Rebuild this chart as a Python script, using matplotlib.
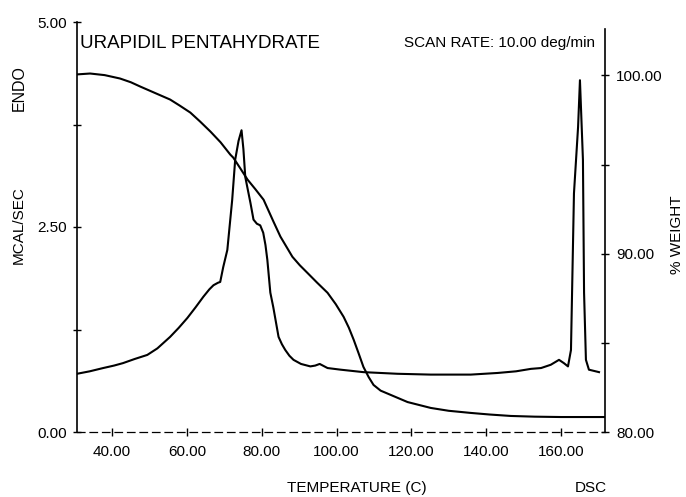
import matplotlib
matplotlib.use("Agg")
import matplotlib.pyplot as plt

plt.rcParams['font.family'] = ['Liberation Sans', 'DejaVu Sans']

# DSC heat flow (MCAL/SEC) vs temperature (C)
dsc_temp = [30.6, 34.0, 37.6, 40.5, 42.9, 46.0, 49.4, 52.1, 55.5, 57.8, 60.1, 62.3,
            64.4, 66.0, 67.1, 68.3, 68.9, 69.7, 70.8, 72.1, 72.9, 73.8, 74.6, 75.1,
            75.6, 77.0, 77.8, 78.7, 79.6, 80.4, 81.0, 81.5, 82.3, 83.1, 84.5, 85.4,
            86.3, 87.4, 88.5, 90.5, 93.0, 94.3, 95.5, 97.6, 101.1, 107.2, 116.3,
            125.2, 135.9, 143.1, 148.0, 152.0, 154.7, 157.3, 159.5, 160.8, 161.9,
            162.7, 163.5, 164.6, 165.1, 165.9, 166.2, 166.7, 167.5, 170.2]
dsc_heat = [0.71, 0.74, 0.78, 0.81, 0.84, 0.89, 0.94, 1.02, 1.16, 1.27, 1.39, 1.52,
            1.65, 1.74, 1.79, 1.82, 1.83, 2.01, 2.22, 2.83, 3.32, 3.55, 3.68, 3.45,
            3.11, 2.79, 2.59, 2.54, 2.52, 2.43, 2.28, 2.10, 1.70, 1.52, 1.16, 1.07,
            1.00, 0.93, 0.88, 0.83, 0.80, 0.81, 0.83, 0.78, 0.76, 0.73, 0.71,
            0.70, 0.70, 0.72, 0.74, 0.77, 0.78, 0.82, 0.88, 0.84, 0.80,
            1.00, 2.91, 3.72, 4.29, 3.32, 1.70, 0.88, 0.76, 0.73]

# TGA weight (%) vs temperature (C)
tga_temp = [30.6, 34.1, 38.0, 42.1, 45.0, 47.5, 51.0, 55.5, 58.0, 60.9, 63.5, 66.3,
            69.0, 71.6, 72.4, 74.3, 76.2, 78.3, 80.5, 83.1, 85.0, 86.7, 88.2, 90.2,
            92.2, 94.8, 97.6, 99.8, 101.9, 103.3, 104.6, 105.9, 107.2, 108.6, 109.9,
            111.8, 114.5, 119.0, 125.2, 130.0, 135.9, 141.0, 146.6, 153.0, 160.0,
            171.8]
tga_weight = [100.06, 100.11, 100.02, 99.83, 99.62, 99.38, 99.06, 98.65, 98.32, 97.92,
              97.42, 96.85, 96.25, 95.56, 95.39, 94.78, 94.16, 93.62, 93.03, 91.82,
              90.96, 90.36, 89.83, 89.35, 88.93, 88.38, 87.81, 87.17, 86.46, 85.85,
              85.17, 84.42, 83.65, 83.08, 82.64, 82.32, 82.08, 81.68, 81.35, 81.19,
              81.07, 80.98, 80.90, 80.86, 80.84, 80.84]

x_ticks = [40, 60, 80, 100, 120, 140, 160]
x_labels = ["40.00", "60.00", "80.00", "100.00", "120.00", "140.00", "160.00"]
left_ticks = [0, 1.25, 2.5, 3.75, 5.0]
left_labels = ["0.00", "", "2.50", "", "5.00"]
right_ticks = [80, 85, 90, 95, 100]
right_labels = ["80.00", "", "90.00", "", "100.00"]

W, H = 686, 497
fig = plt.figure(figsize=(W / 100, H / 100), dpi=100)
ax = fig.add_axes([77 / W, 1 - 432 / H, (605 - 77) / W, (432 - 22) / H])
ax2 = ax.twinx()

ax.plot(dsc_temp, dsc_heat, color='black', lw=1.5, solid_joinstyle='round')
ax2.plot(tga_temp, tga_weight, color='black', lw=1.5, solid_joinstyle='round')

ax.set_xlim(30.6, 171.8)
ax.set_ylim(0, 5.0)
ax2.set_ylim(80, 103.0)

for s in ['top']:
    ax.spines[s].set_visible(False)
    ax2.spines[s].set_visible(False)
ax2.spines['left'].set_visible(False)
ax2.spines['bottom'].set_visible(False)
ax.spines['right'].set_visible(False)
ax.spines['bottom'].set_linestyle((0, (6, 4)))
ax.spines['bottom'].set_linewidth(0.9)
ax.spines['left'].set_linewidth(1.2)
ax2.spines['right'].set_linewidth(1.2)
ax2.spines['right'].set_bounds(80, 102.6)

ax.set_xticks(x_ticks)
ax.set_xticklabels(x_labels)
ax.set_yticks(left_ticks)
ax.set_yticklabels(left_labels)
ax2.set_yticks(right_ticks)
ax2.set_yticklabels(right_labels)

ax.tick_params(axis='x', direction='inout', length=6, width=1.0, labelsize=11, pad=6)
ax.tick_params(axis='y', direction='inout', length=6, width=1.0, labelsize=11, pad=4)
ax2.tick_params(axis='y', direction='inout', length=6, width=1.0, labelsize=11, pad=5)

fig.text(80 / W, 1 - 43 / H, "URAPIDIL PENTAHYDRATE", fontsize=13.5, va='center', ha='left')
fig.text(595 / W, 1 - 43 / H, "SCAN RATE: 10.00 deg/min", fontsize=11, va='center', ha='right')
fig.text(19 / W, 1 - 88 / H, "ENDO", fontsize=11.5, rotation=90, va='center', ha='center')
fig.text(19 / W, 1 - 225 / H, "MCAL/SEC", fontsize=11, rotation=90, va='center', ha='center')
fig.text(677 / W, 1 - 235 / H, "% WEIGHT", fontsize=11, rotation=90, va='center', ha='center')
fig.text(357 / W, 1 - 488 / H, "TEMPERATURE (C)", fontsize=11, va='center', ha='center')
fig.text(591 / W, 1 - 488 / H, "DSC", fontsize=11, va='center', ha='center')

fig.savefig("out.png", dpi=100)
